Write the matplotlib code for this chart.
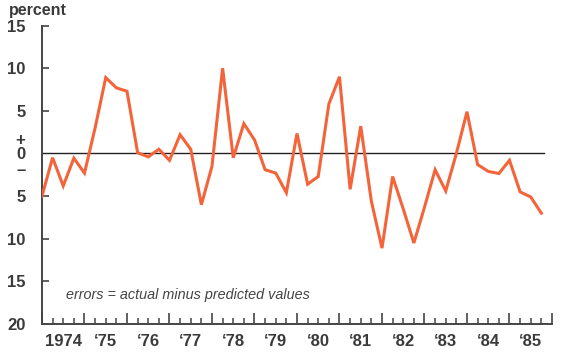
import matplotlib
matplotlib.use("Agg")
import matplotlib.pyplot as plt
import numpy as np

# Quarterly forecast errors, 1974Q1 - 1985Q4 (percent)
errors = [-5.0, -0.5, -3.8, -0.55, -2.3,
          3.0, 8.9, 7.7, 7.3,
          0.1, -0.4, 0.5, -0.8,
          2.2, 0.5, -6.0, -1.5,
          10.0, -0.5, 3.5, 1.6,
          -1.9, -2.3, -4.6, 2.35,
          -3.6, -2.7, 5.8, 9.0,
          -4.2, 3.2, -5.6, -11.1,
          -2.7, -6.5, -10.5, -6.3,
          -1.9, -4.4, 0.0, 4.9,
          -1.3, -2.1, -2.35, -0.8,
          -4.5, -5.1, -7.0]
start_year = 1974
year_labels = ["1974", "\u201875", "\u201876", "\u201877", "\u201878", "\u201879",
               "\u201880", "\u201881", "\u201882", "\u201883", "\u201884", "\u201885"]
ytick_vals = [15, 10, 5, 1.7, 0, -1.8, -5, -10, -15, -20]
ytick_labels = ["15", "10", "5", "+", "0", "\u2013", "5", "10", "15", "20"]

x = start_year + np.arange(len(errors)) / 4.0

fig = plt.figure(figsize=(5.62, 3.54), dpi=100)
ax = fig.add_axes([0.0747, 0.0847, 0.9075, 0.843])

line_color = "#f4643a"
text_color = "#3a3a3a"
font = "Liberation Sans"

ax.axhline(0, color="#222222", lw=1.0, xmax=0.985, zorder=2)
ax.plot(x, errors, color=line_color, lw=2.2, solid_joinstyle="miter", zorder=3)

ax.set_xlim(start_year, start_year + 12)
ax.set_ylim(-20, 15)

for s in ["top", "right"]:
    ax.spines[s].set_visible(False)
for s in ["left", "bottom"]:
    ax.spines[s].set_color("#444444")
    ax.spines[s].set_linewidth(1.4)

# y ticks: marks only at +-5,10,15 ; labels via minor ticks
ax.yaxis.remove_overlapping_locs = False
major_y = [15, 10, 5, -5, -10, -15]
ax.set_yticks(major_y)
ax.set_yticklabels([])
ax.tick_params(axis="y", which="major", direction="in", length=5, width=1.2, color="#444444")
ax.set_yticks(ytick_vals, minor=True)
ax.set_yticklabels(ytick_labels, minor=True)
ax.tick_params(axis="y", which="minor", length=0, pad=12)
for t in ax.get_yticklabels(minor=True):
    t.set_fontfamily(font)
    t.set_fontweight("bold")
    t.set_fontsize(12)
    t.set_color(text_color)

# x ticks: year boundaries major, quarters minor
years = np.arange(start_year, start_year + 13)
ax.set_xticks(years)
ax.set_xticklabels([])
ax.set_xticks(np.arange(start_year, start_year + 12, 0.25), minor=True)
ax.tick_params(axis="x", which="major", direction="in", length=8, width=1.2, color="#444444")
ax.tick_params(axis="x", which="minor", direction="in", length=4.5, width=1.1, color="#444444")
for i, lab in enumerate(year_labels):
    ax.text(start_year + i + 0.5, -0.035, lab, transform=ax.get_xaxis_transform(),
            ha="center", va="top", fontfamily=font, fontweight="bold",
            fontsize=12, color=text_color)

fig.text(9 / 562, 1 - 11 / 354, "percent", ha="left", va="center",
         fontfamily=font, fontweight="bold", fontsize=11.5, color=text_color)

ax.text(1974.57, -16.6, "errors = actual minus predicted values", ha="left", va="center",
        fontfamily=font, fontstyle="italic", fontsize=10.4, color="#444444")

fig.savefig("out.png", dpi=100)
